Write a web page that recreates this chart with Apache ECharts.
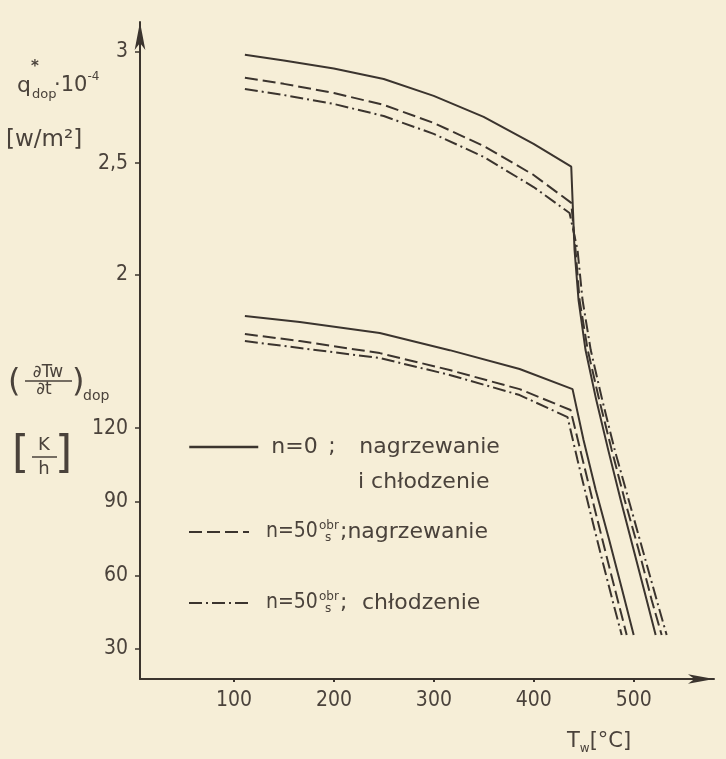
<!DOCTYPE html>
<html><head><meta charset="utf-8">
<script src="https://cdn.jsdelivr.net/npm/echarts@6/dist/echarts.min.js"></script>
<style>html,body{margin:0;padding:0;background:#f6eed7}#c{width:726px;height:759px}</style>
</head><body><div id="c"></div>
<script>
// ---- tick labels ----
const TICKS_X = [100, 200, 300, 400, 500];
const TICKS_Q = [2, 2.5, 3];
const TICKS_RATE = [30, 60, 90, 120];

// ---- series names (legend) ----
const N0 = 'n=0';
const N50H = 'n=50 nagrzewanie';
const N50C = 'n=50 chłodzenie';

// ---- upper group: q*dop * 10^-4 [W/m2]  (T, q) ----
const qSolid = [[110.8,2.985],[149.8,2.960],[199.8,2.924],[249.8,2.877],[299.8,2.801],[349.8,2.707],[399.8,2.586],[437.5,2.484],[438.8,2.335],[440.8,2.111],[444.8,1.887],[451.8,1.663],[462.5,1.440],[474.5,1.216],[487,0.992],[500,0.768],[513,0.544],[522,0.387]];
const qDashed = [[110.8,2.882],[149.8,2.855],[199.8,2.814],[249.8,2.761],[299.8,2.680],[349.8,2.577],[399.8,2.447],[437.5,2.322],[441.8,2.111],[445.8,1.887],[454,1.663],[465.5,1.440],[478,1.216],[491,0.992],[505,0.768],[518,0.544],[528,0.387]];
const qDashDot = [[110.8,2.832],[149.8,2.805],[199.8,2.765],[249.8,2.711],[299.8,2.631],[349.8,2.528],[399.8,2.393],[435.8,2.277],[443.8,2.111],[448.8,1.887],[457,1.663],[468.5,1.440],[481,1.216],[495,0.992],[509,0.768],[523,0.544],[533,0.387]];

// ---- lower group: (dTw/dt)dop [K/h]  (T, rate) ----
const rateSolid = [[110.8,165.7],[165.8,163.3],[245.8,158.8],[315.8,151.8],[385.8,144.1],[438.8,135.9],[449.8,115.2],[462,94.8],[475.5,74.4],[488.5,54.0],[500,35.7]];
const rateDashed = [[110.8,158.4],[165.8,155.5],[245.8,150.6],[315.8,143.7],[385.8,135.9],[436.8,127.4],[447.8,109.0],[460,88.7],[472.5,68.3],[484,49.9],[493,35.7]];
const rateDashDot = [[110.8,155.5],[165.8,152.7],[245.8,148.6],[315.8,141.7],[385.8,133.5],[433.8,124.5],[443.8,107.0],[456,86.6],[468.5,66.2],[480,47.9],[488,35.7]];

const INK = '#3b342e';
const TXT = '#4a423b';
const FONT = 'DejaVu Sans';
const NUMFONT = 'DejaVu Sans Condensed';
const DASH = [13, 5];
const DASHDOT = [13, 4, 2, 4];

function mkSeries(name, data, yIdx, type) {
  return {
    name: name, type: 'line', data: data, xAxisIndex: 0, yAxisIndex: yIdx,
    symbol: 'none', smooth: false, silent: true, color: INK,
    itemStyle: { color: INK },
    lineStyle: { color: INK, width: 2, type: type }
  };
}

const tickLbl = { fontFamily: NUMFONT, fontSize: 21, color: TXT };
const tok = (o) => Object.assign({ fontFamily: FONT, fontSize: 22, color: TXT, lineHeight: 24 }, o);
const fracRich = {
  a: tok({ fontFamily: NUMFONT, fontSize: 21, width: 53, padding: [0, 0, 0, 12] }),
  o: tok({ fontSize: 12, width: 0, verticalAlign: 'top', lineHeight: 12 }),
  u: tok({ fontSize: 12, width: 15, padding: [0, 0, 0, 6], verticalAlign: 'bottom', lineHeight: 12 })
};

const chart = echarts.init(document.getElementById('c'));
chart.setOption({
  backgroundColor: '#f6eed7',
  animation: false,
  grid: { left: 140, right: 12, top: 22, bottom: 80, containLabel: false },
  xAxis: {
    type: 'value', min: 5.8, max: 580.4,
    axisLine: { show: true, symbol: ['none', 'arrow'], symbolSize: [7, 26], lineStyle: { color: INK, width: 2 } },
    axisTick: { show: true, customValues: TICKS_X, length: 3, lineStyle: { color: INK, width: 2 } },
    axisLabel: Object.assign({ customValues: TICKS_X, margin: 11 }, tickLbl),
    splitLine: { show: false }
  },
  yAxis: [
    {
      type: 'value', min: 0.19, max: 3.132, position: 'left',
      axisLine: { show: true, symbol: ['none', 'arrow'], symbolSize: [8, 28], lineStyle: { color: INK, width: 2 } },
      axisTick: { show: true, customValues: TICKS_Q, length: 5, lineStyle: { color: INK, width: 1.5 } },
      axisLabel: Object.assign({ customValues: TICKS_Q, margin: 12, formatter: v => String(v).replace('.', ',') }, tickLbl),
      splitLine: { show: false }
    },
    {
      type: 'value', min: 17.72, max: 285.6, position: 'left',
      axisLine: { show: false },
      axisTick: { show: true, customValues: TICKS_RATE, length: 5, lineStyle: { color: INK, width: 1.5 } },
      axisLabel: Object.assign({ customValues: TICKS_RATE, margin: 12 }, tickLbl),
      splitLine: { show: false }
    }
  ],
  legend: [
    {
      data: [N0], left: 188, top: 436, padding: 0, itemWidth: 69, itemHeight: 24, selectedMode: false,
      itemStyle: { opacity: 0 }, lineStyle: { width: 2.5 },
      formatter: '{a|n=0}{s|;}{c|nagrzewanie}',
      textStyle: { rich: { a: tok({ width: 57, padding: [0, 0, 0, 8] }), s: tok({ width: 31 }), c: tok({}) } }
    },
    {
      data: [N50H], left: 188, top: 520, padding: 0, itemWidth: 60, itemHeight: 24, selectedMode: false,
      itemStyle: { opacity: 0 },
      formatter: '{a|n=50}{o|obr}{u|s}{c|;nagrzewanie}',
      textStyle: { rich: Object.assign({ c: tok({}) }, fracRich) }
    },
    {
      data: [N50C], left: 188, top: 591, padding: 0, itemWidth: 60, itemHeight: 24, selectedMode: false,
      itemStyle: { opacity: 0 },
      formatter: '{a|n=50}{o|obr}{u|s}{s|;}{c|chłodzenie}',
      textStyle: { rich: Object.assign({ s: tok({ width: 22 }), c: tok({}) }, fracRich) }
    }
  ],
  graphic: [
    { type: 'text', x: 358, y: 482, style: { text: 'i chłodzenie', fill: TXT, fontFamily: FONT, fontSize: 22, verticalAlign: 'middle' } },
    // q label
    { type: 'text', x: 17, y: 86, style: {
        text: '{q|q}{d|dop}{m|·10}{e|-4}', verticalAlign: 'middle',
        rich: {
          q: { fill: TXT, fontFamily: FONT, fontSize: 22, lineHeight: 30, width: 15 },
          d: { fill: TXT, fontFamily: FONT, fontSize: 13, lineHeight: 30, verticalAlign: 'bottom', width: 22 },
          m: { fill: TXT, fontFamily: FONT, fontSize: 21, lineHeight: 30 },
          e: { fill: TXT, fontFamily: FONT, fontSize: 12, lineHeight: 30, verticalAlign: 'top' }
        } } },
    { type: 'text', x: 31, y: 67, style: { text: '*', fill: TXT, fontFamily: FONT, fontSize: 15, fontWeight: 'bold', verticalAlign: 'middle' } },
    { type: 'text', x: 6, y: 140, style: { text: '[w/m²]', fill: TXT, fontFamily: FONT, fontSize: 23, verticalAlign: 'middle' } },
    // dTw/dt label
    { type: 'text', x: 8, y: 383, style: { text: '(', fill: TXT, fontFamily: FONT, fontSize: 32, verticalAlign: 'middle' } },
    { type: 'text', x: 48, y: 373, style: { text: '∂Tw', fill: TXT, fontFamily: FONT, fontSize: 17, align: 'center', verticalAlign: 'middle' } },
    { type: 'line', shape: { x1: 25, y1: 381, x2: 72, y2: 381 }, style: { stroke: TXT, lineWidth: 1.5 } },
    { type: 'text', x: 44, y: 390, style: { text: '∂t', fill: TXT, fontFamily: FONT, fontSize: 17, align: 'center', verticalAlign: 'middle' } },
    { type: 'text', x: 72, y: 383, style: { text: ')', fill: TXT, fontFamily: FONT, fontSize: 32, verticalAlign: 'middle' } },
    { type: 'text', x: 83, y: 396, style: { text: 'dop', fill: TXT, fontFamily: FONT, fontSize: 14, verticalAlign: 'middle' } },
    // K/h
    { type: 'text', x: 12, y: 456, style: { text: '[', fill: TXT, fontFamily: FONT, fontSize: 44, verticalAlign: 'middle' } },
    { type: 'text', x: 44, y: 445, style: { text: 'K', fill: TXT, fontFamily: FONT, fontSize: 18, align: 'center', verticalAlign: 'middle' } },
    { type: 'line', shape: { x1: 32, y1: 457, x2: 57, y2: 457 }, style: { stroke: TXT, lineWidth: 1.5 } },
    { type: 'text', x: 44, y: 469, style: { text: 'h', fill: TXT, fontFamily: FONT, fontSize: 18, align: 'center', verticalAlign: 'middle' } },
    { type: 'text', x: 55, y: 456, style: { text: ']', fill: TXT, fontFamily: FONT, fontSize: 44, verticalAlign: 'middle' } },
    // x axis name
    { type: 'text', x: 567, y: 742, style: {
        text: '{t|T}{w|w}{c|[°C]}', verticalAlign: 'middle',
        rich: {
          t: { fill: TXT, fontFamily: FONT, fontSize: 21, lineHeight: 26 },
          w: { fill: TXT, fontFamily: FONT, fontSize: 12, lineHeight: 26, verticalAlign: 'bottom' },
          c: { fill: TXT, fontFamily: FONT, fontSize: 21, lineHeight: 26 }
        } } }
  ],
  series: [
    mkSeries(N0, qSolid, 0, 'solid'),
    mkSeries(N50H, qDashed, 0, DASH),
    mkSeries(N50C, qDashDot, 0, DASHDOT),
    mkSeries(N0, rateSolid, 1, 'solid'),
    mkSeries(N50H, rateDashed, 1, DASH),
    mkSeries(N50C, rateDashDot, 1, DASHDOT)
  ]
});
</script>
</body></html>
